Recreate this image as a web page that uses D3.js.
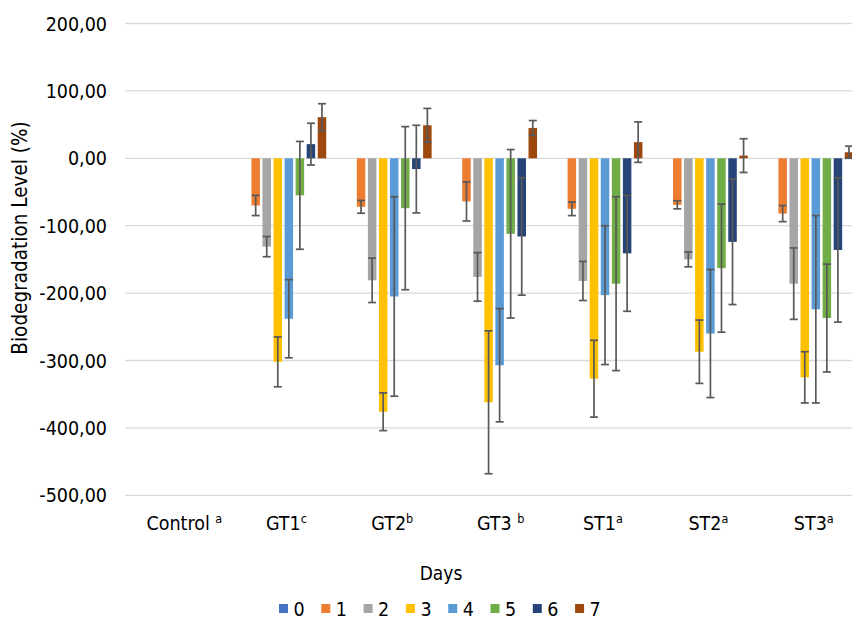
<!DOCTYPE html>
<html><head><meta charset="utf-8">
<script src="https://cdn.jsdelivr.net/npm/d3@7"></script>
<style>
html,body{margin:0;padding:0;background:#fff;}
svg{display:block;}
text{font-family:"DejaVu Sans Condensed","DejaVu Sans",sans-serif;font-stretch:condensed;fill:#000;}
</style></head>
<body><svg id="chart" width="852" height="621"></svg>
<script>
const categories = ["Control","GT1","GT2","GT3","ST1","ST2","ST3"];
const superscripts = ["a","c","b","b","a","a","a"];
const days = ["0","1","2","3","4","5","6","7"];
const colors = ["#4472C4","#ED7D31","#A5A5A5","#FFC000","#5B9BD5","#70AD47","#264478","#9E480E"];
// values per day (series) across categories
const day0 = [0,0,0,0,0,0,0];
const day1 = [0,-70,-72,-64,-75,-69,-82];
const day2 = [0,-131,-181,-176,-182,-150,-186];
const day3 = [0,-302,-376,-362,-327,-287,-325];
const day4 = [0,-238,-205,-307,-203,-260,-224];
const day5 = [0,-55,-74,-112,-186,-163,-237];
const day6 = [0,21,-16,-116,-141,-124,-136];
const day7 = [0,61,49,45,24,4,9];
const err0 = [0,0,0,0,0,0,0];
const err1 = [0,15,9.5,29,10,6,12];
const err2 = [0,15,33,36,29,11,53];
const err3 = [0,37,28,106,57,47,38];
const err4 = [0,58,148,84,103,95,139];
const err5 = [0,80,121,125,129,95,80];
const err6 = [0,31,65,87,86,93,107];
const err7 = [0,20,25,11,30,25,9];
const yTicks = [200,100,0,-100,-200,-300,-400,-500];

const series = [day0,day1,day2,day3,day4,day5,day6,day7];
const errors = [err0,err1,err2,err3,err4,err5,err6,err7];

const svg = d3.select("#chart");
svg.append("rect").attr("width",852).attr("height",621).attr("fill","#fff");

const pLeft = 125.2, pRight = 863, pTop = 23.5, pBottom = 495.3;
const y = d3.scaleLinear().domain([-500,200]).range([pBottom, pTop]);
const x0 = d3.scaleBand().domain(categories).range([pLeft,pRight]).paddingInner(0.1855).paddingOuter(0.09275);
const x1 = d3.scaleBand().domain(days).range([0,x0.bandwidth()]).paddingInner(0.23).paddingOuter(0);

// gridlines
svg.append("g").selectAll("line").data(yTicks).join("line")
  .attr("x1",pLeft).attr("x2",pRight+20)
  .attr("y1",d=>y(d)).attr("y2",d=>y(d))
  .attr("stroke","#D9D9D9").attr("stroke-width",1.3);

// y labels
const fmt = v => d3.format(".2f")(v).replace(".",",").replace("\u2212","-");
svg.append("g").selectAll("text").data(yTicks).join("text")
  .attr("x",107).attr("y",d=>y(d)).attr("dy","0.36em")
  .attr("text-anchor","end").attr("font-size",19.5)
  .text(d=>fmt(d));

// bars
const data = [];
series.forEach((s,si)=>s.forEach((v,ci)=>data.push({si,ci,v,e:errors[si][ci]})));
const g = svg.append("g");
g.selectAll("rect").data(data).join("rect")
  .attr("x",d=>x0(categories[d.ci])+x1(days[d.si]))
  .attr("width",x1.bandwidth())
  .attr("y",d=>y(Math.max(0,d.v)))
  .attr("height",d=>Math.abs(y(d.v)-y(0)))
  .attr("fill",d=>colors[d.si]);

// error bars
const eb = svg.append("g").attr("stroke","#595959").attr("stroke-width",1.7);
const ed = data.filter(d=>d.e>0);
const cx = d=>x0(categories[d.ci])+x1(days[d.si])+x1.bandwidth()/2;
eb.selectAll("line.v").data(ed).join("line").attr("class","v")
  .attr("x1",cx).attr("x2",cx).attr("y1",d=>y(d.v+d.e)).attr("y2",d=>y(d.v-d.e));
eb.selectAll("line.t").data(ed).join("line").attr("class","t")
  .attr("x1",d=>cx(d)-4).attr("x2",d=>cx(d)+4).attr("y1",d=>y(d.v+d.e)).attr("y2",d=>y(d.v+d.e));
eb.selectAll("line.b").data(ed).join("line").attr("class","b")
  .attr("x1",d=>cx(d)-4).attr("x2",d=>cx(d)+4).attr("y1",d=>y(d.v-d.e)).attr("y2",d=>y(d.v-d.e));

// x labels
const xl = svg.append("g").selectAll("text").data(categories).join("text")
  .attr("x",d=>x0(d)+x0.bandwidth()/2).attr("y",530)
  .attr("text-anchor","start").attr("font-size",19.5);
xl.append("tspan").text((d,i)=> (i===0 || i===3) ? d+" " : d);
xl.append("tspan").attr("font-size",12.5).attr("dy",-7.5).text((d,i)=>superscripts[i]);
xl.each(function(d,i){
  const mainW = this.firstChild.getComputedTextLength();
  d3.select(this).attr("x", x0(d)+x0.bandwidth()/2 - mainW/2 + ((i===0||i===3)?3:0));
});

// axis titles
svg.append("text").attr("x",441).attr("y",580).attr("text-anchor","middle").attr("font-size",19).text("Days");
svg.append("text").attr("transform","translate(27,238) rotate(-90)").attr("text-anchor","middle").attr("font-size",20.5).text("Biodegradation Level (%)");

// legend
const lg = svg.append("g").attr("transform","translate(279,609)");
const li = lg.selectAll("g").data(days).join("g").attr("transform",(d,i)=>`translate(${i*42.3},0)`);
li.append("rect").attr("x",0).attr("y",-5).attr("width",9).attr("height",9).attr("fill",(d,i)=>colors[i]);
li.append("text").attr("x",14.5).attr("y",0).attr("dy","0.36em").attr("font-size",19.5).text(d=>d);
</script></body></html>
